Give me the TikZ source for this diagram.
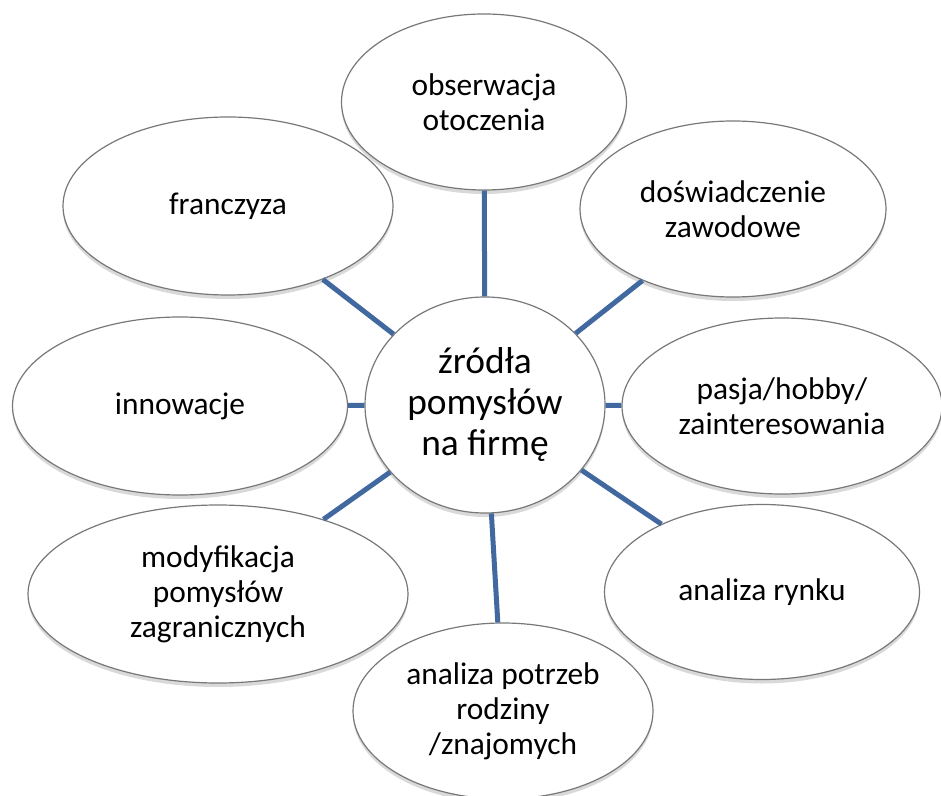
\documentclass[tikz,border=0pt]{standalone}
\usepackage{fontspec}
\setmainfont{Carlito}
\usetikzlibrary{shapes.geometric,shadows}
\definecolor{linia}{RGB}{65,105,160}
\definecolor{obrys}{RGB}{120,120,120}
\begin{document}
\begin{tikzpicture}[x=0.5pt,y=-0.5pt,
  owal/.style={ellipse, draw=obrys, line width=0.6pt, fill=white, align=center, inner sep=0pt,
    drop shadow={shadow xshift=0pt, shadow yshift=-2pt, opacity=0.3},
    font=\fontsize{15.7}{17.5}\selectfont},
  lacznik/.style={linia, line width=2.5pt}]
\useasboundingbox (0,0) rectangle (941,796);
\node[owal, minimum width=120pt, minimum height=108pt, font=\fontsize{18.7}{20.5}\selectfont] (zrodla) at (485,405) {źródła\\pomysłów\\na firmę};
\node[owal, minimum width=142.5pt, minimum height=88pt] (obs) at (484,102) {obserwacja\\otoczenia};
\node[owal, minimum width=165pt, minimum height=89pt] (franc) at (228,206) {franczyza};
\node[owal, minimum width=153pt, minimum height=88pt] (dosw) at (733,209) {doświadczenie\\zawodowe};
\node[owal, minimum width=167.5pt, minimum height=89pt] (innow) at (180,406) {innowacje};
\node[owal, minimum width=160pt, minimum height=88pt] (pasja) at (782,406) {pasja/hobby/\\zainteresowania};
\node[owal, minimum width=190pt, minimum height=89pt] (modyf) at (218,594) {modyfikacja\\pomysłów\\zagranicznych};
\node[owal, minimum width=157.5pt, minimum height=87.5pt] (rynek) at (762,592) {analiza rynku};
\node[owal, minimum width=150pt, minimum height=88pt] (potrz) at (503,711) {analiza potrzeb\\rodziny\\/znajomych};
\draw[lacznik] (zrodla) -- (obs);
\draw[lacznik] (zrodla) -- (dosw);
\draw[lacznik] (zrodla) -- (pasja);
\draw[lacznik] (zrodla) -- (rynek);
\draw[lacznik] (zrodla) -- (potrz);
\draw[lacznik] (zrodla) -- (modyf);
\draw[lacznik] (zrodla) -- (innow);
\draw[lacznik] (zrodla) -- (franc);
\end{tikzpicture}
\end{document}
